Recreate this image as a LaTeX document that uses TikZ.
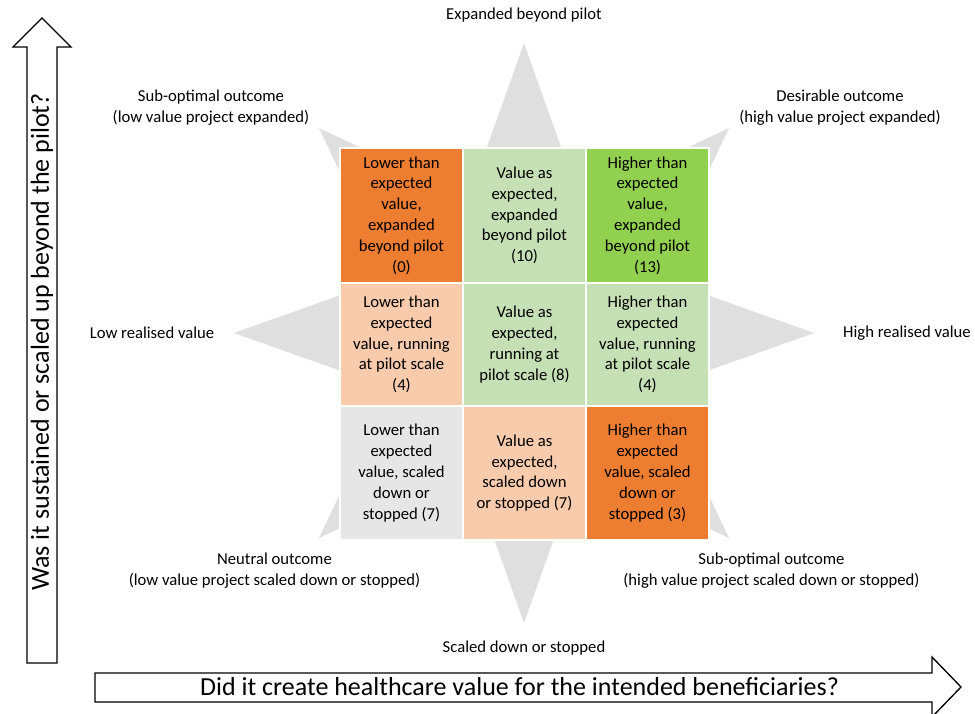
\documentclass[tikz,border=0pt]{standalone}
\usepackage{fontspec}
\setmainfont{Carlito}
\usepackage{tikz}

\definecolor{darkorange}{RGB}{237,125,49}
\definecolor{lightgreen}{RGB}{197,224,180}
\definecolor{brightgreen}{RGB}{146,208,80}
\definecolor{peach}{RGB}{248,203,173}
\definecolor{lightgrey}{RGB}{231,230,230}
\definecolor{starfill}{RGB}{223,223,223}

\tikzset{
    cell/.style={rectangle, draw=white, line width=1pt, inner sep=0pt, minimum width=92.25pt, align=center, font=\fontsize{12.5}{15.6}\selectfont},
    lbl/.style={align=center, inner sep=0pt, font=\fontsize{12.5}{15.6}\selectfont},
    axislbl/.style={inner sep=0pt, font=\fontsize{19.5}{23}\selectfont},
    bigarrow/.style={draw=black, line width=1pt, fill=white, line join=miter}
}

\begin{document}
\begin{tikzpicture}[x=0.75pt, y=-0.75pt]
        \useasboundingbox (0,0) rectangle (975,714);

        % Star
        \fill[starfill, shift={(524,333)}] (0:290) \foreach \a in {22.5,67.5,...,337.5} { -- (\a:145) -- ({\a+22.5}:290) } -- cycle;

        % Cells
        \node[cell, fill=darkorange, minimum height=101.25pt] (c11) at (401.5,215.5) {Lower than\\expected\\value,\\expanded\\beyond pilot\\(0)};
        \node[cell, fill=lightgreen, minimum height=101.25pt] (c12) at (524.5,215.5) {Value as\\expected,\\expanded\\beyond pilot\\(10)};
        \node[cell, fill=brightgreen, minimum height=101.25pt] (c13) at (647.5,215.5) {Higher than\\expected\\value,\\expanded\\beyond pilot\\(13)};
        \node[cell, fill=peach, minimum height=92.25pt] (c21) at (401.5,344.5) {Lower than\\expected\\value, running\\at pilot scale\\(4)};
        \node[cell, fill=lightgreen, minimum height=92.25pt] (c22) at (524.5,344.5) {Value as\\expected,\\running at\\pilot scale (8)};
        \node[cell, fill=lightgreen, minimum height=92.25pt] (c23) at (647.5,344.5) {Higher than\\expected\\value, running\\at pilot scale\\(4)};
        \node[cell, fill=lightgrey, minimum height=100.5pt] (c31) at (401.5,473) {Lower than\\expected\\value, scaled\\down or\\stopped (7)};
        \node[cell, fill=peach, minimum height=100.5pt] (c32) at (524.5,473) {Value as\\expected,\\scaled down\\or stopped (7)};
        \node[cell, fill=darkorange, minimum height=100.5pt] (c33) at (647.5,473) {Higher than\\expected\\value, scaled\\down or\\stopped (3)};

        % Labels
        \node[lbl] (up) at (524,15) {Expanded beyond pilot};
        \node[lbl] (upleft) at (211,108) {Sub-optimal outcome\\(low value project expanded)};
        \node[lbl] (upright) at (840,108) {Desirable outcome\\(high value project expanded)};
        \node[lbl] (left) at (152,333) {Low realised value};
        \node[lbl] (right) at (907,333) {High realised value};
        \node[lbl] (downleft) at (274.5,571) {Neutral outcome\\(low value project scaled down or stopped)};
        \node[lbl] (downright) at (771.5,571) {Sub-optimal outcome\\(high value project scaled down or stopped)};
        \node[lbl] (down) at (524,648) {Scaled down or stopped};

        % Axes
        \draw[bigarrow] (27,663) -- (27,47) -- (13,47) -- (42,18) -- (71,47) -- (57,47) -- (57,663) -- cycle;
        \draw[bigarrow] (95,673) -- (932,673) -- (932,657) -- (961,687) -- (932,717) -- (932,702) -- (95,702) -- cycle;
        \node[axislbl, rotate=90] (yaxis) at (42,342) {Was it sustained or scaled up beyond the pilot?};
        \node[axislbl] (xaxis) at (519.5,687) {Did it create healthcare value for the intended beneficiaries?};
    \end{tikzpicture}
\end{document}
